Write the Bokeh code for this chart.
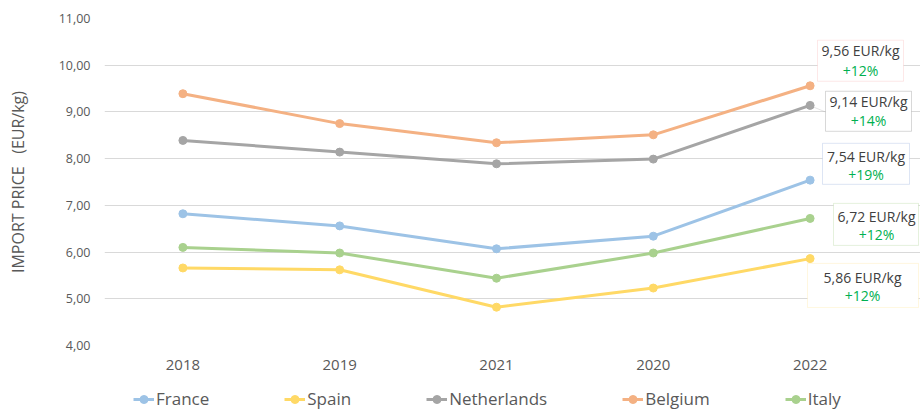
from bokeh.plotting import figure
from bokeh.layouts import column
from bokeh.models import (Range1d, FixedTicker, CustomJSTickFormatter,
                          Legend, LegendItem, Label, BoxAnnotation, PolyAnnotation)
from bokeh.embed import file_html
from bokeh.resources import INLINE

# ---- data ----
years = ["2018", "2019", "2021", "2020", "2022"]
france = [6.82, 6.56, 6.07, 6.34, 7.54]
spain = [5.66, 5.62, 4.82, 5.23, 5.86]
netherlands = [8.39, 8.14, 7.89, 7.99, 9.14]
belgium = [9.39, 8.75, 8.34, 8.51, 9.56]
italy = [6.10, 5.98, 5.44, 5.98, 6.72]
series_names = ["France", "Spain", "Netherlands", "Belgium", "Italy"]
series_values = [france, spain, netherlands, belgium, italy]
last_value_labels = ["7,54 EUR/kg", "5,86 EUR/kg", "9,14 EUR/kg", "9,56 EUR/kg", "6,72 EUR/kg"]
change_labels = ["+19%", "+12%", "+14%", "+12%", "+12%"]
y_ticks = [4, 5, 6, 7, 8, 9, 10, 11]

# category positions (one slot per year, in order)
x_pos = list(range(len(years)))

# ---- styles ----
colors = ["#9dc3e6", "#ffd966", "#a5a5a5", "#f4b183", "#a9d18e"]
box_colors = ["#8faadc", "#ffe699", "#7f7f7f", "#f8b4b4", "#a9d18e"]
FONT = "Open Sans"
TXT = "#595959"
GREEN = "#00b050"


def py2v(py):
    # vertical placement helper for annotation boxes (reference pixel -> axis value)
    return 11 - (py - 18.3) / 46.67


# annotation layout (x in screen px from frame left):
# (text center x, line1 py, line2 py, box left, box right, box top py, box bottom py)
box_layout = [
    (761.5, 155.7, 174.0, 718, 805, 143, 184),   # France
    (758.0, 276.7, 295.0, 703, 814, 263, 307),   # Spain
    (764.0, 101.7, 120.7, 721, 807, 91, 131),    # Netherlands
    (756.0, 50.0, 70.0, 713, 799, 40, 81),       # Belgium
    (772.0, 215.7, 234.0, 729, 814, 203, 245),   # Italy
]

# x extent: half a slot before the first year, extra room on the right for the value boxes
x_range = Range1d(-0.5, len(years) - 0.5 + 32 / 156.8)

# ---- main chart ----
p = figure(x_range=x_range, y_range=Range1d(4, 11),
           frame_width=816, frame_height=327, output_backend="svg", toolbar_location=None,
           min_border_left=104, min_border_right=0, min_border_top=18, min_border_bottom=35)
p.outline_line_color = None
p.background_fill_color = "white"
p.border_fill_color = "white"

p.xgrid.grid_line_color = None
p.ygrid.grid_line_color = "#d9d9d9"
p.ygrid.grid_line_width = 1

p.xaxis.ticker = FixedTicker(ticks=x_pos)
p.xaxis.major_label_overrides = {i: y for i, y in zip(x_pos, years)}
p.yaxis.ticker = FixedTicker(ticks=y_ticks)
p.yaxis.formatter = CustomJSTickFormatter(code="return tick.toFixed(2).replace('.', ',');")
for ax in (p.xaxis[0], p.yaxis[0]):
    ax.axis_line_color = None
    ax.major_tick_line_color = None
    ax.minor_tick_line_color = None
    ax.major_tick_out = 0
    ax.major_tick_in = 0
    ax.minor_tick_out = 0
    ax.minor_tick_in = 0
    ax.major_label_text_font = FONT
    ax.major_label_text_color = TXT
p.yaxis.major_label_text_font_size = "12.5px"
p.xaxis.major_label_text_font_size = "15px"
p.yaxis.major_label_standoff = 14
p.xaxis.major_label_standoff = 14
p.yaxis.axis_label = "IMPORT PRICE\u00a0\u00a0\u00a0(EUR/kg)"
p.yaxis.axis_label_text_font = FONT
p.yaxis.axis_label_text_font_size = "16px"
p.yaxis.axis_label_text_font_style = "normal"
p.yaxis.axis_label_text_color = TXT
p.yaxis.axis_label_standoff = 27

for vals, col in zip(series_values, colors):
    p.line(x_pos, vals, line_color=col, line_width=3)
    p.scatter(x_pos, vals, size=8, fill_color=col, line_color=col)

# connector for the Netherlands label
p.add_layout(PolyAnnotation(xs=[705, 721], ys=[netherlands[-1], py2v(111.7)],
                            xs_units="screen", ys_units="data",
                            line_color="#a5a5a5", line_width=1, fill_alpha=0))

for (cx, l1, l2, left, right, top, bottom), col, lab, chg in zip(
        box_layout, box_colors, last_value_labels, change_labels):
    p.add_layout(BoxAnnotation(left=left, right=right, top=py2v(top), bottom=py2v(bottom),
                               left_units="screen", right_units="screen",
                               top_units="data", bottom_units="data",
                               fill_color="white", fill_alpha=1,
                               line_color=col, line_width=1))
    p.add_layout(Label(x=cx, y=py2v(l1), x_units="screen", y_units="data", text=lab,
                       text_align="center", text_baseline="middle",
                       text_font=FONT, text_font_size="14px", text_color="#404040"))
    p.add_layout(Label(x=cx, y=py2v(l2), x_units="screen", y_units="data", text=chg,
                       text_align="center", text_baseline="middle",
                       text_font=FONT, text_font_size="14px", text_color=GREEN))

# ---- legend strip (same series, its own plot area below the chart) ----
pl = figure(x_range=x_range, y_range=Range1d(0, 1),
            frame_width=816, frame_height=30,
            output_backend="svg", toolbar_location=None,
            x_axis_location=None, y_axis_location=None,
            min_border_left=104, min_border_right=0, min_border_top=0, min_border_bottom=0)
pl.outline_line_color = None
pl.grid.visible = False
pl.border_fill_color = "white"
pl.background_fill_color = "white"
items = []
for name, vals, col in zip(series_names, series_values, colors):
    ln = pl.line(x_pos, vals, line_color=col, line_width=3)
    sc = pl.scatter(x_pos, vals, size=8, fill_color=col, line_color=col)
    items.append(LegendItem(label=name, renderers=[ln, sc]))
legend = Legend(items=items, orientation="horizontal", location=(29, 0),
                spacing=75, label_standoff=2, glyph_width=21, glyph_height=20,
                label_height=20, padding=0, margin=0,
                label_text_font=FONT, label_text_font_size="17px", label_text_color=TXT,
                border_line_color=None, background_fill_alpha=0)
pl.add_layout(legend, "center")

layout = column(p, pl, spacing=0)
open("out.html", "w").write(file_html(layout, INLINE))
